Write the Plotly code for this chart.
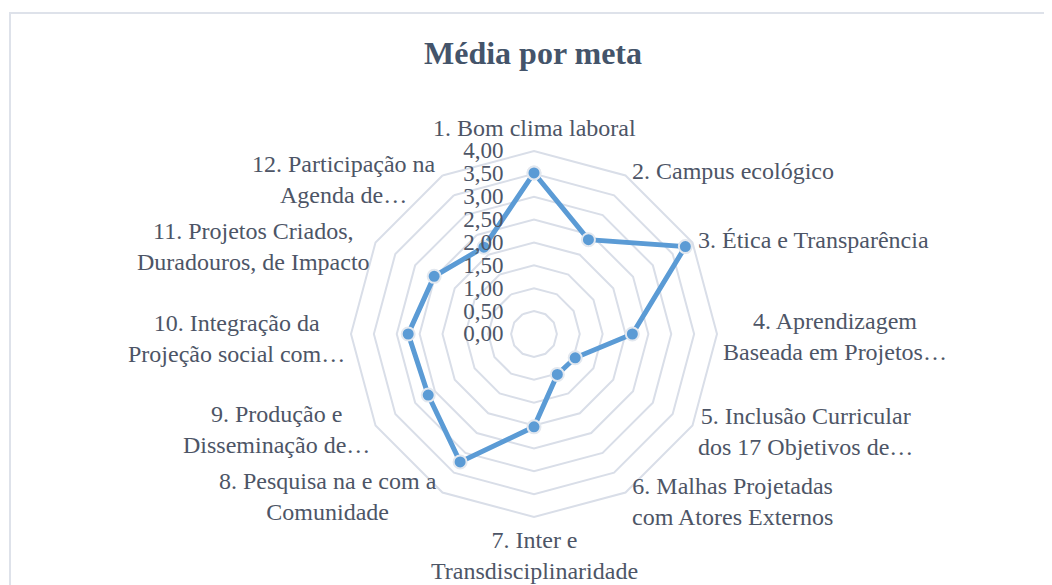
import math
import plotly.graph_objects as go

categories = [
    "1. Bom clima laboral",
    "2. Campus ecológico",
    "3. Ética e Transparência",
    "4. Aprendizagem<br>Baseada em Projetos…",
    "5. Inclusão Curricular<br>dos 17 Objetivos de…",
    "6. Malhas Projetadas<br>com Atores Externos",
    "7. Inter e<br>Transdisciplinaridade",
    "8. Pesquisa na e com a<br>Comunidade",
    "9. Produção e<br>Disseminação de…",
    "10. Integração da<br>Projeção social com…",
    "11. Projetos Criados,<br>Duradouros, de Impacto",
    "12. Participação na<br>Agenda de…",
]
media = [3.52, 2.38, 3.82, 2.15, 1.04, 1.02, 2.03, 3.23, 2.67, 2.75, 2.52, 2.19]
radial_ticks = [0, 0.5, 1, 1.5, 2, 2.5, 3, 3.5, 4]

text_color = "#4D5566"
grid_color = "#D9DEE8"

W, H = 1052, 585
OFF = 8                    # browser body margin
cx, cy, R = 534, 334, 183  # radar centre / radius in window pixels


def px(x):
    return (x - OFF) / W


def py(y):
    return 1 - (y - OFF) / H


fig = go.Figure()
fig.add_trace(go.Scatterpolar(
    r=media + media[:1],
    theta=categories + categories[:1],
    mode="lines+markers",
    line=dict(color="#5B9BD5", width=5),
    marker=dict(size=13, color="#5B9BD5", line=dict(color="#E3E8EF", width=2)),
    showlegend=False,
))

# category labels placed next to the outer ring, Excel style
annotations = []
n = len(categories)
for i, lab in enumerate(categories):
    a = 2 * math.pi * i / n
    sx, sy = math.sin(a), -math.cos(a)
    vx, vy = cx + R * sx, cy + R * sy
    if abs(sx) < 0.1:
        xa = "center"
        ya = "bottom" if sy < 0 else "top"
        vy += -8 if sy < 0 else 8
    elif sx > 0:
        xa, ya = "left", "middle"
        vx += 4
        vy += 2 + 8 * sy
    else:
        xa, ya = "right", "middle"
        vx -= 4
        vy += 4
    annotations.append(dict(text=lab, x=px(vx), y=py(vy), xref="paper", yref="paper",
                            xanchor=xa, yanchor=ya, align="center", showarrow=False,
                            font=dict(size=24, color=text_color)))

fig.update_layout(
    width=W, height=H,
    margin=dict(l=0, r=0, t=0, b=0),
    paper_bgcolor="white",
    separators=",.",
    font=dict(family="Liberation Serif, Times New Roman, serif", size=23, color=text_color),
    title=dict(text="<b>Média por meta</b>", x=px(533), xanchor="center",
               y=py(53), yanchor="middle",
               font=dict(size=32, color="#44546A")),
    polar=dict(
        domain=dict(x=[px(cx - R), px(cx + R)], y=[py(cy + R), py(cy - R)]),
        bgcolor="white",
        gridshape="linear",
        radialaxis=dict(
            range=[0, 4], tickvals=radial_ticks, tickformat=".2f",
            angle=90, tickangle=90, side="counterclockwise",
            showline=False, ticks="outside", ticklen=22, tickcolor="rgba(0,0,0,0)",
            gridcolor=grid_color, gridwidth=2,
            tickfont=dict(size=23, color=text_color),
        ),
        angularaxis=dict(
            direction="clockwise", rotation=90,
            showgrid=False, showline=True, linecolor=grid_color, linewidth=2,
            ticks="", showticklabels=False,
        ),
    ),
    annotations=annotations,
    shapes=[dict(type="rect", xref="paper", yref="paper",
                 x0=px(10), x1=1.2, y0=-0.2, y1=py(13),
                 line=dict(color="#DEE2EA", width=2), fillcolor="rgba(0,0,0,0)", layer="below")],
)

fig.write_html("out.html")
